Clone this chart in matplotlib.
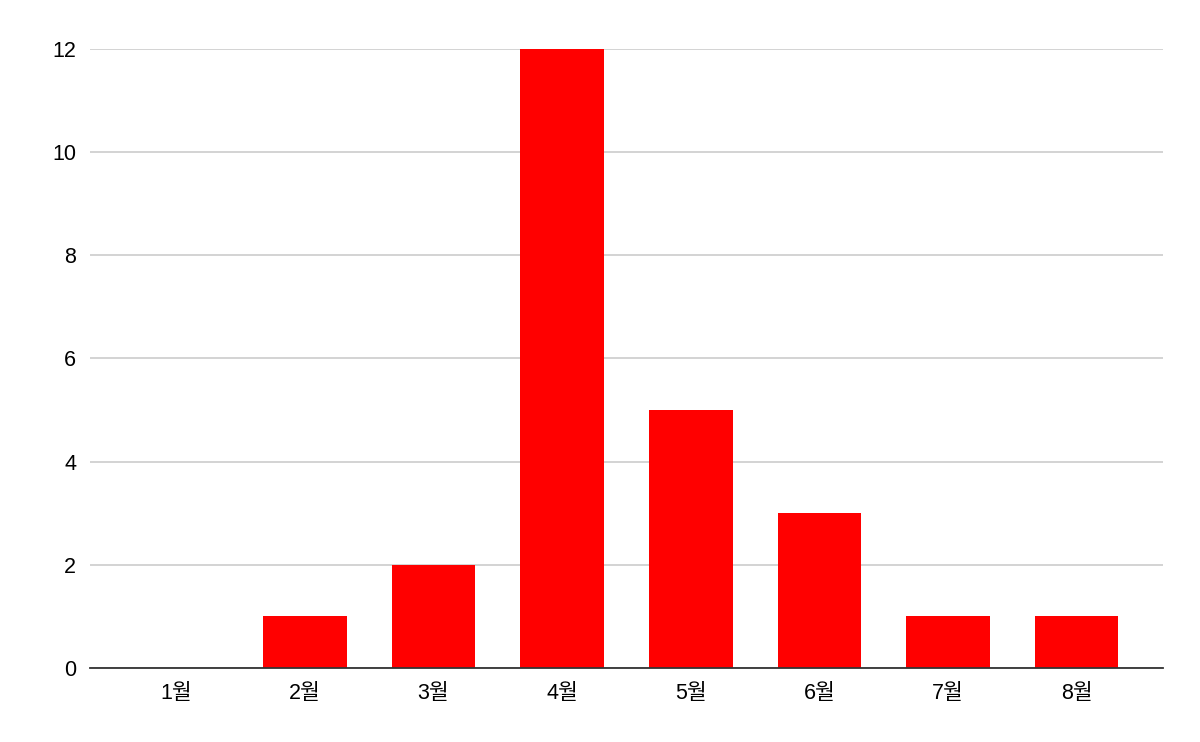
import matplotlib
matplotlib.use('Agg')
import matplotlib.pyplot as plt

months = ['1월', '2월', '3월', '4월', '5월', '6월', '7월', '8월']
counts = [0, 1, 2, 12, 5, 3, 1, 1]
yticks = [0, 2, 4, 6, 8, 10, 12]

plt.rcParams['font.family'] = ['Liberation Sans', 'Noto Sans CJK KR', 'DejaVu Sans']

fig = plt.figure(figsize=(12, 7.42), dpi=100)
ax = fig.add_axes([0.075, 0.0997, 0.894, 0.8343])
x = range(len(months))
ax.bar(x, counts, width=0.65, color='#ff0000', zorder=3)

ax.set_xlim(-0.67, 7.67)
ax.set_ylim(0, 12)
ax.set_yticks(yticks)
ax.set_xticks(list(x))
ax.set_xticklabels(months)
ax.yaxis.grid(True, color='#cccccc', lw=1.2, zorder=0)
ax.tick_params(length=0, labelsize=15.5, colors='#000000')
ax.tick_params(axis='y', pad=10)
ax.tick_params(axis='x', pad=11)
for s in ['top', 'right', 'left']:
    ax.spines[s].set_visible(False)
ax.spines['bottom'].set_color('#333333')
ax.spines['bottom'].set_linewidth(1.3)
ax.spines['bottom'].set_zorder(4)

fig.savefig('out.png', dpi=100)
